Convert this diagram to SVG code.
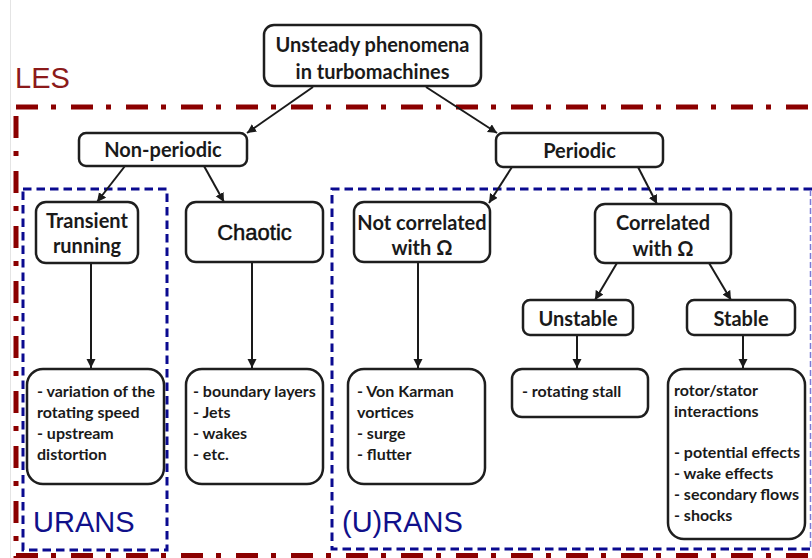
<svg xmlns="http://www.w3.org/2000/svg" width="812" height="558" viewBox="0 0 812 558">
<style>
.box{fill:#fff;stroke:#1e1e1e;stroke-width:2.5}
.t{font-family:Lato,"Noto Sans","DejaVu Sans",sans-serif;font-weight:bold;fill:#1a1a1a}
.big{font-size:20px;text-anchor:middle}
.small{font-size:16px}
.les{stroke:#8b0000;stroke-width:5;fill:none;stroke-dasharray:22 13 5 15}
.blue{stroke:#0a0a90;stroke-width:3;fill:none;stroke-dasharray:8.5 5}
.lbl{font-family:"Liberation Sans",Arial,sans-serif;font-size:29px}
.con{stroke:#1a1a1a;stroke-width:2;fill:none;marker-end:url(#ah)}
</style>
<defs>
<marker id="ah" markerUnits="userSpaceOnUse" markerWidth="10" markerHeight="10" refX="9" refY="4.5" orient="auto">
<path d="M0,0 L9,4.5 L0,9 Z" fill="#1a1a1a"/>
</marker>
</defs>
<rect width="812" height="558" fill="#fff"/>
<line x1="10.5" y1="0" x2="10.5" y2="558" stroke="#e4e4e4" stroke-width="1"/>
<g id="regions">
<text class="lbl" x="15" y="88" fill="#8b1a1a" font-size="29">LES</text>
<line class="les" x1="16" y1="107" x2="812" y2="107"/>
<line class="les" x1="16" y1="116" x2="16" y2="558"/>
<line class="les" x1="16" y1="555.5" x2="812" y2="555.5"/>
<rect class="blue" x="23" y="189" width="144" height="361"/>
<path class="blue" d="M812,189 H332 V549 H812"/>
<line x1="810.5" y1="190" x2="810.5" y2="548" stroke="#7a7ad6" stroke-width="1.5" stroke-dasharray="6 3"/>
<text class="lbl" x="33" y="532" fill="#10108a">URANS</text>
<text class="lbl" x="342" y="532" fill="#10108a">(U)RANS</text>
</g>
<g id="connectors">
<line class="con" x1="313" y1="87" x2="247" y2="133"/>
<line class="con" x1="426" y1="87" x2="497" y2="133"/>
<line class="con" x1="125" y1="166" x2="97" y2="202"/>
<line class="con" x1="204" y1="166" x2="224" y2="202"/>
<line class="con" x1="512" y1="167" x2="489" y2="203"/>
<line class="con" x1="638" y1="167" x2="657" y2="204"/>
<line class="con" x1="617" y1="263" x2="595" y2="300"/>
<line class="con" x1="709" y1="263" x2="731" y2="300"/>
<line class="con" x1="91" y1="263" x2="91" y2="368"/>
<line class="con" x1="252" y1="262" x2="252" y2="368"/>
<line class="con" x1="418" y1="262" x2="418" y2="368"/>
<line class="con" x1="577" y1="335" x2="577" y2="368"/>
<line class="con" x1="743" y1="335" x2="743" y2="368"/>
</g>
<g id="n-root"><rect class="box" x="264" y="25" width="217" height="61" rx="10"/>
<text class="t big" x="372.5" y="52">Unsteady phenomena</text><text class="t big" x="372.5" y="79">in turbomachines</text></g>
<g id="n-nonperiodic"><rect class="box" x="79" y="133" width="168" height="33" rx="7"/>
<text class="t big" x="163" y="157">Non-periodic</text></g>
<g id="n-periodic"><rect class="box" x="496" y="133" width="167" height="34" rx="7"/>
<text class="t big" x="579.5" y="158">Periodic</text></g>
<g id="n-transient"><rect class="box" x="36" y="202" width="102" height="61" rx="10"/>
<text class="t big" x="87" y="228">Transient</text><text class="t big" x="87" y="253">running</text></g>
<g id="n-chaotic"><rect class="box" x="186" y="202" width="137" height="60" rx="10"/>
<text x="254.5" y="240" font-family="Liberation Sans,Arial,sans-serif" font-size="22" text-anchor="middle" fill="#111" stroke="#111" stroke-width="0.5">Chaotic</text></g>
<g id="n-notcorr"><rect class="box" x="354" y="202" width="136" height="60" rx="10"/>
<text class="t big" x="422" y="230">Not correlated</text><text class="t big" x="422" y="255">with Ω</text></g>
<g id="n-corr"><rect class="box" x="595" y="204" width="136" height="59" rx="10"/>
<text class="t big" x="663" y="230">Correlated</text><text class="t big" x="663" y="256">with Ω</text></g>
<g id="n-unstable"><rect class="box" x="523" y="300" width="110" height="35" rx="7"/>
<text class="t big" x="578" y="326">Unstable</text></g>
<g id="n-stable"><rect class="box" x="687" y="300" width="108" height="35" rx="7"/>
<text class="t big" x="741" y="326">Stable</text></g>
<g id="n-transient-list"><rect class="box" x="27" y="369" width="137" height="115" rx="16"/>
<text class="t small" x="37"><tspan x="37" y="397">- variation of the</tspan><tspan x="37" y="418">rotating speed</tspan><tspan x="37" y="439">- upstream</tspan><tspan x="37" y="460">distortion</tspan></text></g>
<g id="n-chaotic-list"><rect class="box" x="186" y="369" width="137" height="115" rx="16"/>
<text class="t small"><tspan x="193" y="397">- boundary layers</tspan><tspan x="193" y="418">- Jets</tspan><tspan x="193" y="439">- wakes</tspan><tspan x="193" y="460">- etc.</tspan></text></g>
<g id="n-notcorr-list"><rect class="box" x="348" y="369" width="137" height="115" rx="16"/>
<text class="t small"><tspan x="357" y="397">- Von Karman</tspan><tspan x="357" y="418">vortices</tspan><tspan x="357" y="439">- surge</tspan><tspan x="357" y="460">- flutter</tspan></text></g>
<g id="n-unstable-list"><rect class="box" x="512" y="369" width="136" height="48" rx="10"/>
<text class="t small" x="522" y="397">- rotating stall</text></g>
<g id="n-stable-list"><rect class="box" x="668" y="369" width="137" height="170" rx="16"/>
<text class="t small"><tspan x="674" y="396">rotor/stator</tspan><tspan x="674" y="417">interactions</tspan><tspan x="674" y="458">- potential effects</tspan><tspan x="674" y="479">- wake effects</tspan><tspan x="674" y="500">- secondary flows</tspan><tspan x="674" y="521">- shocks</tspan></text></g>
</svg>
